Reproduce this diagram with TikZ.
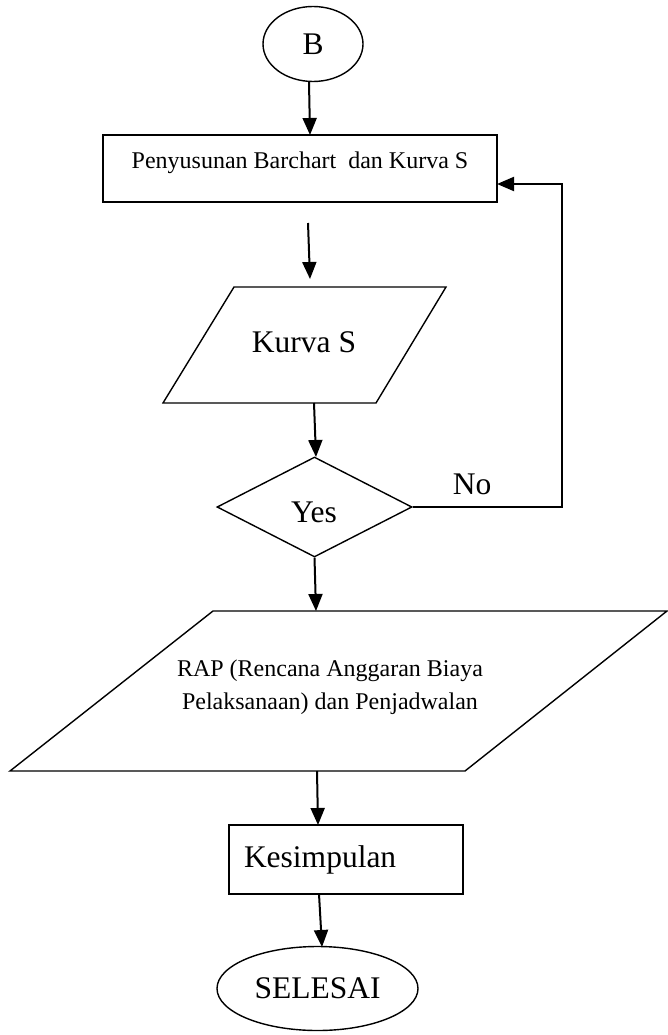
\documentclass[tikz,border=0pt]{standalone}
\usepackage{fontspec}
\setmainfont{Liberation Serif}
\usetikzlibrary{shapes.geometric,arrows.meta}
\begin{document}
\begin{tikzpicture}[x=1pt,y=-1pt,
  shapeline/.style={draw=black,line width=1.4pt},
  big/.style={font=\fontsize{31.5}{36}\selectfont},
  small/.style={font=\fontsize{24}{32.5}\selectfont},
  arr/.style={draw=black,line width=2pt,-{Triangle[length=17pt,width=14pt]}},
  flow/.style={draw=black,line width=2pt}]
\useasboundingbox (0,0) rectangle (667,1035);

% start connector
\node[shapeline,ellipse,minimum width=100,minimum height=75,inner sep=0,big] (b) at (313,44) {B};

% first process box
\node[shapeline,rectangle,minimum width=394,inner xsep=0,inner ysep=0,
      text height=34,text depth=33,small] (bc) at (300,168.5)
      {Penyusunan Barchart\ \ dan Kurva S};

% Kurva S output
\draw[shapeline] (234,287) -- (446,287) -- (376,403) -- (163,403) -- cycle;
\node[big] (ks) at (304,342) {Kurva S};

% decision
\node[shapeline,diamond,minimum width=195,minimum height=100,inner sep=0,big] (dec) at (314.5,507) {};
\node[big] (yes) at (314,512) {Yes};
\node[big] (no) at (472,484) {No};

% RAP output
\draw[shapeline] (213,611) -- (667,611) -- (465,771) -- (10,771) -- cycle;
\node[small,align=center] (rap) at (330,687) {RAP (Rencana Anggaran Biaya\\Pelaksanaan) dan Penjadwalan};

% conclusion
\node[shapeline,rectangle,minimum height=69,inner xsep=15,inner ysep=0,
      text width=204,align=left,big] (kes) at (346,859.5) {Kesimpulan};

% end
\node[shapeline,ellipse,minimum width=201,minimum height=84,inner sep=0,big] (sel) at (317.5,988.5) {SELESAI};

% connector end points
\coordinate (bcin) at (310,135);
\coordinate (bcout) at (308,223);
\coordinate (ksin) at (310,279);
\coordinate (ksout) at (314,403);
\coordinate (decin) at (316,457);
\coordinate (rapin) at (316,611);
\coordinate (rapout) at (317,771);
\coordinate (kesin) at (318,825);
\coordinate (kesout) at (319,894);
\coordinate (selin) at (322,947);
\coordinate (fbin) at (497,184);
\coordinate (fbr) at (562,507);
\coordinate (fbt) at (562,184);

% connectors
\draw[arr] ([xshift=-4]b.south) -- (bcin);
\draw[arr] (bcout) -- (ksin);
\draw[arr] (ksout) -- (decin);
\draw[arr] (dec.south) -- (rapin);
\draw[arr] (rapout) -- (kesin);
\draw[arr] (kesout) -- (selin);
\draw[arr] (dec.east) -- (fbr) -- (fbt) -- (fbin);
\end{tikzpicture}
\end{document}
